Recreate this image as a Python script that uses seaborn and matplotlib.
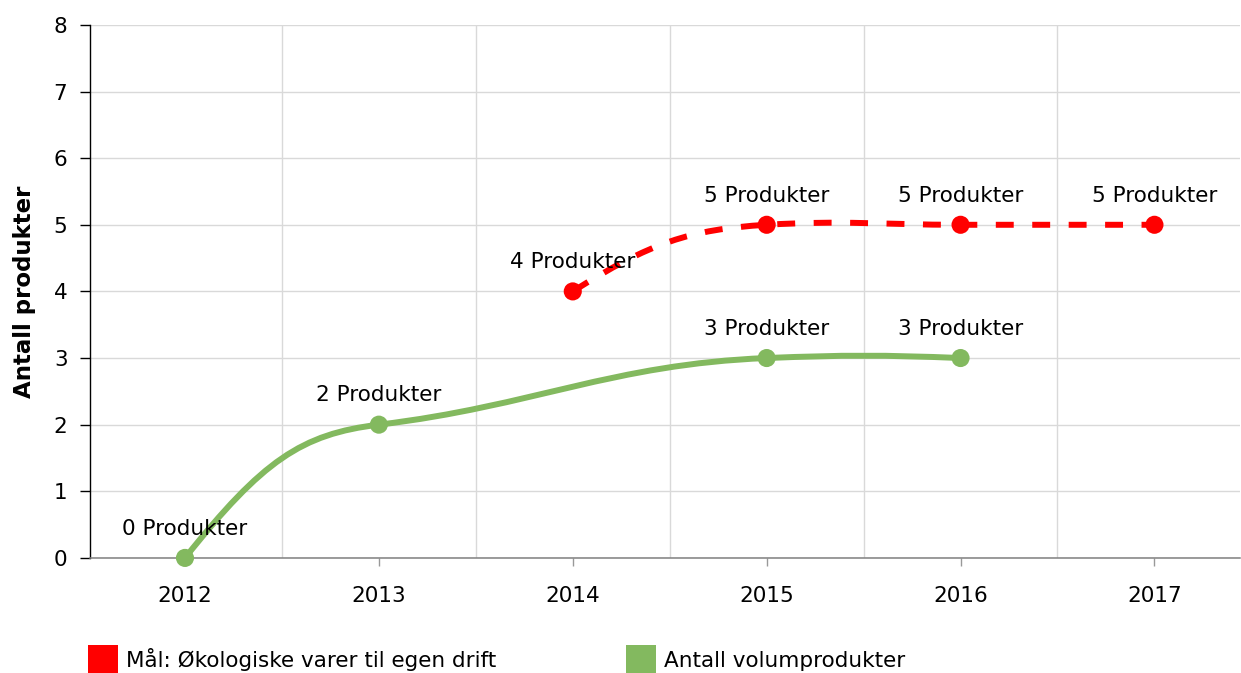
import matplotlib
matplotlib.use('Agg')
import matplotlib.pyplot as plt
import seaborn as sns
from matplotlib.path import Path
from matplotlib.patches import PathPatch, Patch

# Chart data
years = [2012, 2013, 2014, 2015, 2016, 2017]
maal_years = [2014, 2015, 2016, 2017]
maal_values = [4, 5, 5, 5]
volum_years = [2012, 2013, 2015, 2016]
volum_values = [0, 2, 3, 3]
maal_label = 'Mål: Økologiske varer til egen drift'
volum_label = 'Antall volumprodukter'
y_title = 'Antall produkter'

red = '#ff0000'
green = '#83b95f'
grid_col = '#d9d9d9'
fs = 15.5


def spline_path(xs, ys, smoothing=1.5, damp=0.35):
    # smooth curve through the points as cubic bezier segments
    n = len(xs)
    d = smoothing + 1
    m = [0.0] * n
    for i in range(1, n - 1):
        px, py = xs[i], ys[i]
        lx, ly = xs[i - 1], ys[i - 1]
        nx, ny = xs[i + 1], ys[i + 1]
        lcx, lcy = (smoothing * px + lx) / d, (smoothing * py + ly) / d
        rcx, rcy = (smoothing * px + nx) / d, (smoothing * py + ny) / d
        corr = (rcy - lcy) * (rcx - px) / (rcx - lcx) + py - rcy
        m[i] = damp * ((rcy + corr) - (lcy + corr)) / (rcx - lcx)
    first = (ys[1] - ys[0]) / (xs[1] - xs[0])
    last = (ys[-1] - ys[-2]) / (xs[-1] - xs[-2])
    m[0] = 2 * first - (m[1] if n > 2 else first)
    m[-1] = 2 * last - (m[-2] if n > 2 else last)

    verts = [(xs[0], ys[0])]
    codes = [Path.MOVETO]
    for i in range(1, n):
        a = (xs[i] - xs[i - 1]) / d
        c1 = (xs[i - 1] + a, ys[i - 1] + a * m[i - 1])
        c2 = (xs[i] - a, ys[i] - a * m[i])
        verts += [c1, c2, (xs[i], ys[i])]
        codes += [Path.CURVE4] * 3
    return Path(verts, codes)


sns.set_style('white')
plt.rcParams['font.family'] = ['DejaVu Sans']
plt.rcParams['text.color'] = 'black'

fig, ax = plt.subplots(figsize=(12.41, 6.73), dpi=100)
fig.subplots_adjust(left=0.0725, right=0.999, bottom=0.171, top=0.963)

ax.set_xlim(2011.51, 2017.44)
ax.set_ylim(0, 8)
ax.set_yticks(range(9))
ax.set_xticks(years)
ax.set_xticks([y + 0.5 for y in years[:-1]], minor=True)
ax.grid(False)
ax.yaxis.grid(True, color=grid_col, lw=1)
ax.xaxis.grid(True, which='minor', color=grid_col, lw=1)
ax.set_axisbelow(True)

# lines
ax.add_patch(PathPatch(spline_path(volum_years, volum_values), fill=False,
                       edgecolor=green, lw=4.3, capstyle='round', zorder=3))
ax.add_patch(PathPatch(spline_path(maal_years, maal_values), fill=False,
                       edgecolor=red, lw=4.3, linestyle=(0, (3.0, 3.1)),
                       capstyle='butt', zorder=3))

# markers
sns.scatterplot(x=volum_years, y=volum_values, color=green, s=170,
                edgecolor='none', zorder=4, ax=ax, clip_on=False)
sns.scatterplot(x=maal_years, y=maal_values, color=red, s=170,
                edgecolor='none', zorder=4, ax=ax, clip_on=False)

# data labels
for xs, ys in [(volum_years, volum_values), (maal_years, maal_values)]:
    for x, y in zip(xs, ys):
        ax.annotate(f'{y} Produkter', (x, y), xytext=(0, 21),
                    textcoords='offset points', ha='center', va='center',
                    fontsize=fs, color='black', zorder=5)

# axes styling
sns.despine(ax=ax)
ax.spines['left'].set_color('black')
ax.spines['left'].set_linewidth(1)
ax.spines['bottom'].set_color('#808080')
ax.spines['bottom'].set_linewidth(1.1)
ax.tick_params(axis='y', left=True, length=7.2, width=1, color='black',
               pad=9, labelsize=fs, labelcolor='black')
ax.tick_params(axis='x', which='major', bottom=True, length=6, width=1,
               color='#999999', pad=14, labelsize=fs, labelcolor='black')
ax.tick_params(axis='x', which='minor', bottom=False, length=0)

ax.set_ylabel(y_title, fontsize=16.5, fontweight='bold', color='black')
ax.yaxis.set_label_coords(-0.047, 0.5)
ax.set_xlabel('')

handles = [Patch(facecolor=red, lw=0, label=maal_label),
           Patch(facecolor=green, lw=0, label=volum_label)]
leg = fig.legend(handles=handles, loc='center left',
                 bbox_to_anchor=(88 / 1241, 1 - 660 / 673), ncol=2,
                 frameon=False, fontsize=fs, handlelength=1.4,
                 handleheight=1.77, handletextpad=0.37, columnspacing=6.0,
                 borderpad=0, borderaxespad=0, labelcolor='black')

fig.savefig('out.png', dpi=100)
